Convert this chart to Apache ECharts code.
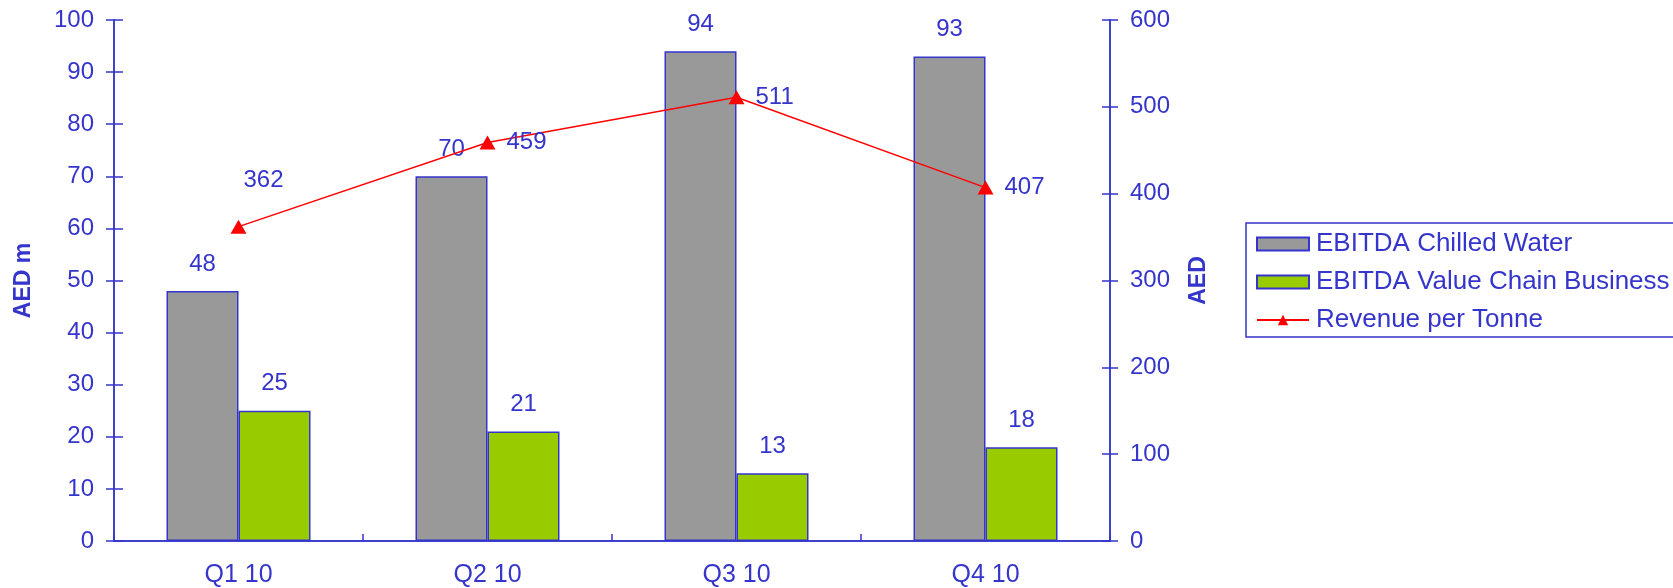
<!DOCTYPE html>
<html>
<head>
<meta charset="utf-8">
<script src="https://cdn.jsdelivr.net/npm/echarts@6/dist/echarts.min.js"></script>
<style>
html,body{margin:0;padding:0;background:#fff;}
#c{width:1673px;height:588px;}
</style>
</head>
<body>
<div id="c"></div>
<script>
const categories = ['Q1 10', 'Q2 10', 'Q3 10', 'Q4 10'];
const chilledWater = [48, 70, 94, 93];
const valueChain = [25, 21, 13, 18];
const revenuePerTonne = [362, 459, 511, 407];
const seriesNames = ['EBITDA Chilled Water', 'EBITDA Value Chain Business', 'Revenue per Tonne'];
const leftAxisName = 'AED m';
const rightAxisName = 'AED';

const BLUE = '#3535cc';
const FONT = "'Liberation Sans', Arial, sans-serif";
const chart = echarts.init(document.getElementById('c'));

const tickStyle = {color: BLUE, width: 1.5};
const lineStyle = {color: BLUE, width: 1.5};
const gridBox = {left: 114, right: 563, top: 20, bottom: 47, containLabel: false, outerBoundsMode: 'none'};

chart.setOption({
  animation: false,
  backgroundColor: '#ffffff',
  textStyle: {fontFamily: FONT},
  grid: [Object.assign({}, gridBox), Object.assign({}, gridBox)],
  legend: {
    orient: 'vertical', left: 1246, top: 223,
    data: [
      {name: seriesNames[0], icon: 'rect'},
      {name: seriesNames[1], icon: 'rect'},
      {name: seriesNames[2]}
    ],
    itemWidth: 52, itemHeight: 13, itemGap: 12,
    padding: [8, 300, 4, 10],
    borderColor: BLUE, borderWidth: 1.5,
    textStyle: {color: BLUE, fontSize: 26, fontFamily: FONT, lineHeight: 26, padding: [0, 0, 0, 2]}
  },
  xAxis: [{
    type: 'category', data: categories, boundaryGap: true, gridIndex: 0,
    axisLine: {lineStyle: lineStyle},
    axisTick: {length: 7, lineStyle: tickStyle},
    axisLabel: {color: BLUE, fontSize: 25, margin: 22, fontFamily: FONT}
  }, {
    type: 'category', data: categories, boundaryGap: true, gridIndex: 1, position: 'bottom',
    axisLine: {show: true, lineStyle: lineStyle},
    axisTick: {show: true, inside: true, length: 7, lineStyle: tickStyle},
    axisLabel: {show: false}
  }],
  yAxis: [
    {
      type: 'value', gridIndex: 0, min: 0, max: 100, interval: 10, position: 'left', splitLine: {show: false},
      axisLine: {show: true, lineStyle: lineStyle},
      axisTick: {show: true, length: 8, lineStyle: tickStyle},
      name: leftAxisName, nameLocation: 'middle', nameGap: 79, nameRotate: 90, nameMoveOverlap: false,
      nameTextStyle: {color: BLUE, fontSize: 23, fontWeight: 'bold', fontFamily: FONT},
      axisLabel: {color: BLUE, fontSize: 24, margin: 20, fontFamily: FONT}
    },
    {
      type: 'value', gridIndex: 0, min: 0, max: 600, interval: 100, position: 'right', splitLine: {show: false},
      axisLine: {show: true, lineStyle: lineStyle},
      axisTick: {show: true, length: 8, lineStyle: tickStyle},
      name: rightAxisName, nameLocation: 'middle', nameGap: 77, nameRotate: 90, nameMoveOverlap: false,
      nameTextStyle: {color: BLUE, fontSize: 23, fontWeight: 'bold', fontFamily: FONT},
      axisLabel: {color: BLUE, fontSize: 24, margin: 20, fontFamily: FONT}
    },
    {
      type: 'value', gridIndex: 1, min: 0, max: 100, interval: 10, position: 'left', splitLine: {show: false},
      axisLine: {show: true, lineStyle: lineStyle}, axisLabel: {show: false},
      axisTick: {show: true, inside: true, length: 9, lineStyle: tickStyle}
    },
    {
      type: 'value', gridIndex: 1, min: 0, max: 600, interval: 100, position: 'right', splitLine: {show: false},
      axisLine: {show: true, lineStyle: lineStyle}, axisLabel: {show: false},
      axisTick: {show: true, inside: true, length: 8, lineStyle: tickStyle}
    }
  ],
  series: [
    {
      name: seriesNames[0], type: 'bar', data: chilledWater, xAxisIndex: 0, yAxisIndex: 0,
      barWidth: 72, barGap: '0%',
      itemStyle: {color: '#999999', borderColor: BLUE, borderWidth: 1.5},
      label: {show: true, position: 'top', distance: 15, color: BLUE, fontSize: 24, fontFamily: FONT}
    },
    {
      name: seriesNames[1], type: 'bar', data: valueChain, xAxisIndex: 0, yAxisIndex: 0,
      barWidth: 72, barGap: '0%',
      itemStyle: {color: '#99cc00', borderColor: BLUE, borderWidth: 1.5},
      label: {show: true, position: 'top', distance: 15, color: BLUE, fontSize: 24, fontFamily: FONT}
    },
    {
      name: seriesNames[2], type: 'line', xAxisIndex: 0, yAxisIndex: 1, z: 5,
      data: revenuePerTonne.map((v, i) => i === 0
        ? {value: v, label: {position: 'top', distance: 27, offset: [25, 0]}}
        : {value: v}),
      symbol: 'triangle', symbolSize: [16, 14],
      lineStyle: {color: '#ff0000', width: 1.5},
      itemStyle: {color: '#ff0000'},
      label: {show: true, position: 'right', distance: 11, color: BLUE, fontSize: 24, fontFamily: FONT}
    }
  ]
});
</script>
</body>
</html>
